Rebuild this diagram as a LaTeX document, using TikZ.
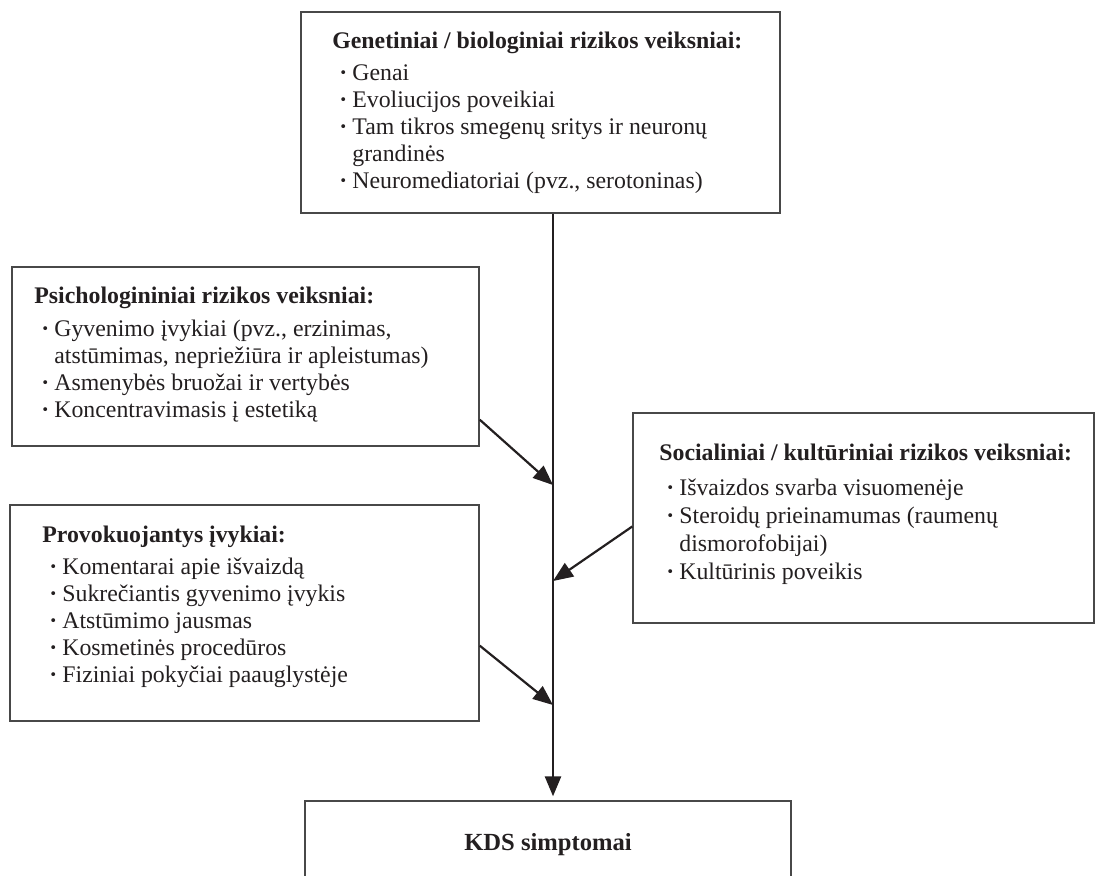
\documentclass[tikz,border=0pt]{standalone}
\usepackage{fontspec}
\setmainfont{Liberation Serif}
\usetikzlibrary{arrows.meta,positioning,fit,calc}
\definecolor{boxgray}{RGB}{72,72,72}
\definecolor{ink}{RGB}{35,31,32}
\newcommand{\itm}{\makebox[10pt][l]{\hspace{3.5pt}\textbf{·}}}
\newcommand{\cont}{\hspace*{10pt}}
\newcommand{\ttl}[1]{\textbf{#1}}

\begin{document}
\begin{tikzpicture}[x=0.5pt,y=-0.5pt,
  box/.style={draw=boxgray, line width=0.7pt, inner sep=0pt},
  txt/.style={anchor=north west, align=left, inner sep=0pt, text=ink,
    font=\fontsize{11.9}{13.5}\selectfont},
  arr/.style={draw=ink, line width=1.1pt, -{Triangle[length=10pt,width=8pt]}}]
  \useasboundingbox (0,0) rectangle (1096,875);
  % boxes
  \node[box, fit={(301,12) (780,213)}] (gen) {};
  \node[box, fit={(12,267) (479,446)}] (psy) {};
  \node[box, fit={(10,505) (479,721)}] (prv) {};
  \node[box, fit={(633,413) (1094,623)}] (soc) {};
  \node[box, minimum width=243pt, minimum height=44pt, text=ink,
    font=\fontsize{12.3}{13.5}\selectfont\bfseries] (kds) at (548,845) {KDS simptomai};
  % texts
  \node[txt] (gentxt) at (332,32) {\ttl{Genetiniai / biologiniai rizikos veiksniai:}\\[2.5pt]
    \itm Genai\\ \itm Evoliucijos poveikiai\\
    \itm Tam tikros smegenų sritys ir neuronų\\ \cont grandinės\\
    \itm Neuromediatoriai (pvz., serotoninas)};
  \node[txt] (psytxt) at (34,287) {\ttl{Psichologininiai rizikos veiksniai:}\\[3pt]
    \itm Gyvenimo įvykiai (pvz., erzinimas,\\ \cont atstūmimas, nepriežiūra ir apleistumas)\\
    \itm Asmenybės bruožai ir vertybės\\ \itm Koncentravimasis į estetiką};
  \node[txt] (prvtxt) at (42,526) {\ttl{Provokuojantys įvykiai:}\\[2.5pt]
    \itm Komentarai apie išvaizdą\\ \itm Sukrečiantis gyvenimo įvykis\\
    \itm Atstūmimo jausmas\\ \itm Kosmetinės procedūros\\
    \itm Fiziniai pokyčiai paauglystėje};
  \node[txt, font=\fontsize{11.9}{14}\selectfont] (soctxt) at (659,444)
    {\ttl{Socialiniai / kultūriniai rizikos veiksniai:}\\[3.5pt]
    \itm Išvaizdos svarba visuomenėje\\ \itm Steroidų prieinamumas (raumenų\\
    \cont dismorofobijai)\\ \itm Kultūrinis poveikis};
  % connectors
  \coordinate (spine) at (553,0);
  \coordinate (in1) at (553,485);
  \coordinate (in2) at (553,581);
  \coordinate (in3) at (553,705);
  \draw[arr, line width=1.3pt, shorten >=2pt] (spine |- gen.south) -- (spine |- kds.north);
  \draw[arr] ($(psy.north east)!0.85!(psy.south east)$) -- (in1);
  \draw[arr] ($(soc.north west)!0.54!(soc.south west)$) -- (in2);
  \draw[arr] ($(prv.north east)!0.65!(prv.south east)$) -- (in3);
\end{tikzpicture}
\end{document}
